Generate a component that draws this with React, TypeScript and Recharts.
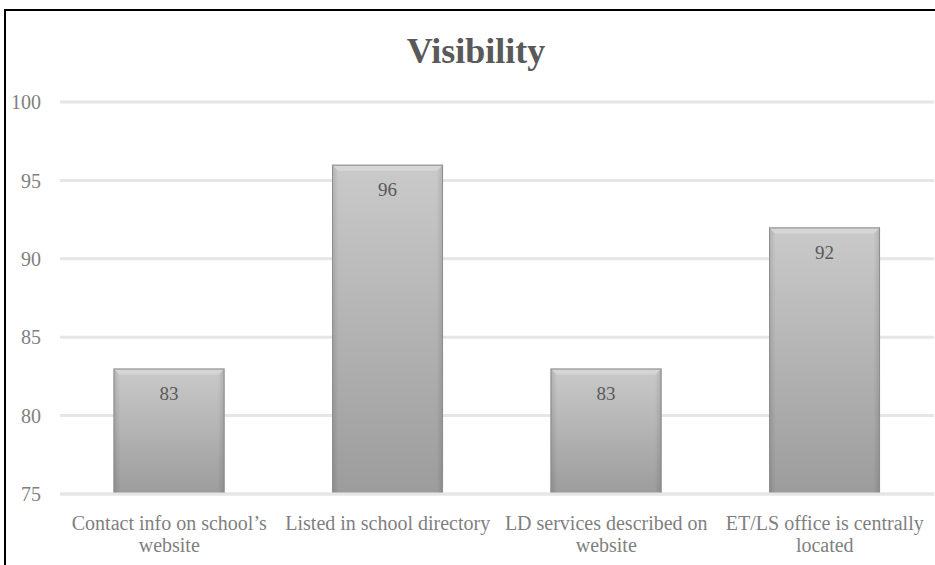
import React from "react";
import { BarChart, Bar, XAxis, YAxis, CartesianGrid, LabelList } from "recharts";

const categories = [
  "Contact info on school's website",
  "Listed in school directory",
  "LD services described on website",
  "ET/LS office is centrally located",
];
const categoryLines = [
  ["Contact info on school\u2019s", "website"],
  ["Listed in school directory"],
  ["LD services described on", "website"],
  ["ET/LS office is centrally", "located"],
];
const values = [83, 96, 83, 92];
const yTicks = [75, 80, 85, 90, 95, 100];
const title = "Visibility";

const data = categories.map((c, i) => ({ name: c, value: values[i], idx: i }));

const SERIF = "'Liberation Serif', 'DejaVu Serif', serif";

const CatTick = (props: any) => {
  const { x, y, payload } = props;
  const lines = categoryLines[payload.index] || [String(payload.value)];
  return (
    <g>
      {lines.map((l, i) => (
        <text
          key={i}
          x={x}
          y={y + 28 + i * 22}
          textAnchor="middle"
          fill="#7f7f7f"
          fontFamily={SERIF}
          fontSize={20}
        >
          {l}
        </text>
      ))}
    </g>
  );
};

const BevelBar = (props: any) => {
  const { x, y, width, height } = props;
  if (!height || height <= 0) return null;
  const b = 6;
  return (
    <g>
      <rect x={x} y={y} width={width} height={height} fill="url(#barGrad)" />
      <rect x={x} y={y} width={width} height={height} fill="url(#sideGrad)" />
      <polygon
        points={`${x},${y} ${x + width},${y} ${x + width - b},${y + b} ${x + b},${y + b}`}
        fill="#d6d6d6"
      />
      <rect x={x + 0.5} y={y + 0.5} width={width - 1} height={height - 1} fill="none" stroke="#8e8e8e" strokeWidth={1} />
    </g>
  );
};

export default function App() {
  return (
    <div style={{ position: "absolute", left: 0, top: 0, width: 935, height: 565, background: "#fff" }}>
      <BarChart
        width={935}
        height={565}
        data={data}
        margin={{ top: 102, right: 1, bottom: 0, left: 0 }}
        barCategoryGap="24.5%"
      >
        <defs>
          <linearGradient id="barGrad" x1="0" y1="0" x2="0" y2="1">
            <stop offset="0%" stopColor="#cacaca" />
            <stop offset="100%" stopColor="#9c9c9c" />
          </linearGradient>
          <linearGradient id="sideGrad" x1="0" y1="0" x2="1" y2="0">
            <stop offset="0%" stopColor="#000" stopOpacity={0.12} />
            <stop offset="6%" stopColor="#000" stopOpacity={0} />
            <stop offset="94%" stopColor="#000" stopOpacity={0} />
            <stop offset="100%" stopColor="#000" stopOpacity={0.12} />
          </linearGradient>
        </defs>
        <CartesianGrid vertical={false} stroke="#e6e6e6" strokeWidth={3} />
        <XAxis
          dataKey="name"
          height={71}
          tickLine={false}
          axisLine={{ stroke: "#e6e6e6", strokeWidth: 3 }}
          tick={<CatTick />}
          interval={0}
        />
        <YAxis
          domain={[75, 100]}
          ticks={yTicks}
          width={60}
          tickLine={false}
          axisLine={false}
          tickSize={0}
          tickMargin={19}
          tick={{ fill: "#7f7f7f", fontFamily: SERIF, fontSize: 20 }}
        />
        <Bar dataKey="value" isAnimationActive={false} shape={<BevelBar />}>
          <LabelList
            dataKey="value"
            position="insideTop"
            offset={18}
            fill="#595959"
            fontFamily={SERIF}
            fontSize={19}
          />
        </Bar>
      </BarChart>
      <svg
        width={935}
        height={565}
        style={{ position: "absolute", left: 0, top: 0, pointerEvents: "none" }}
      >
        <text x={476} y={63} textAnchor="middle" fill="#595959" fontFamily={SERIF} fontWeight="bold" fontSize={36}>
          {title}
        </text>
        <line x1={4} y1={10} x2={935} y2={10} stroke="#000" strokeWidth={2} />
        <line x1={5} y1={9} x2={5} y2={565} stroke="#000" strokeWidth={2} />
      </svg>
    </div>
  );
}
